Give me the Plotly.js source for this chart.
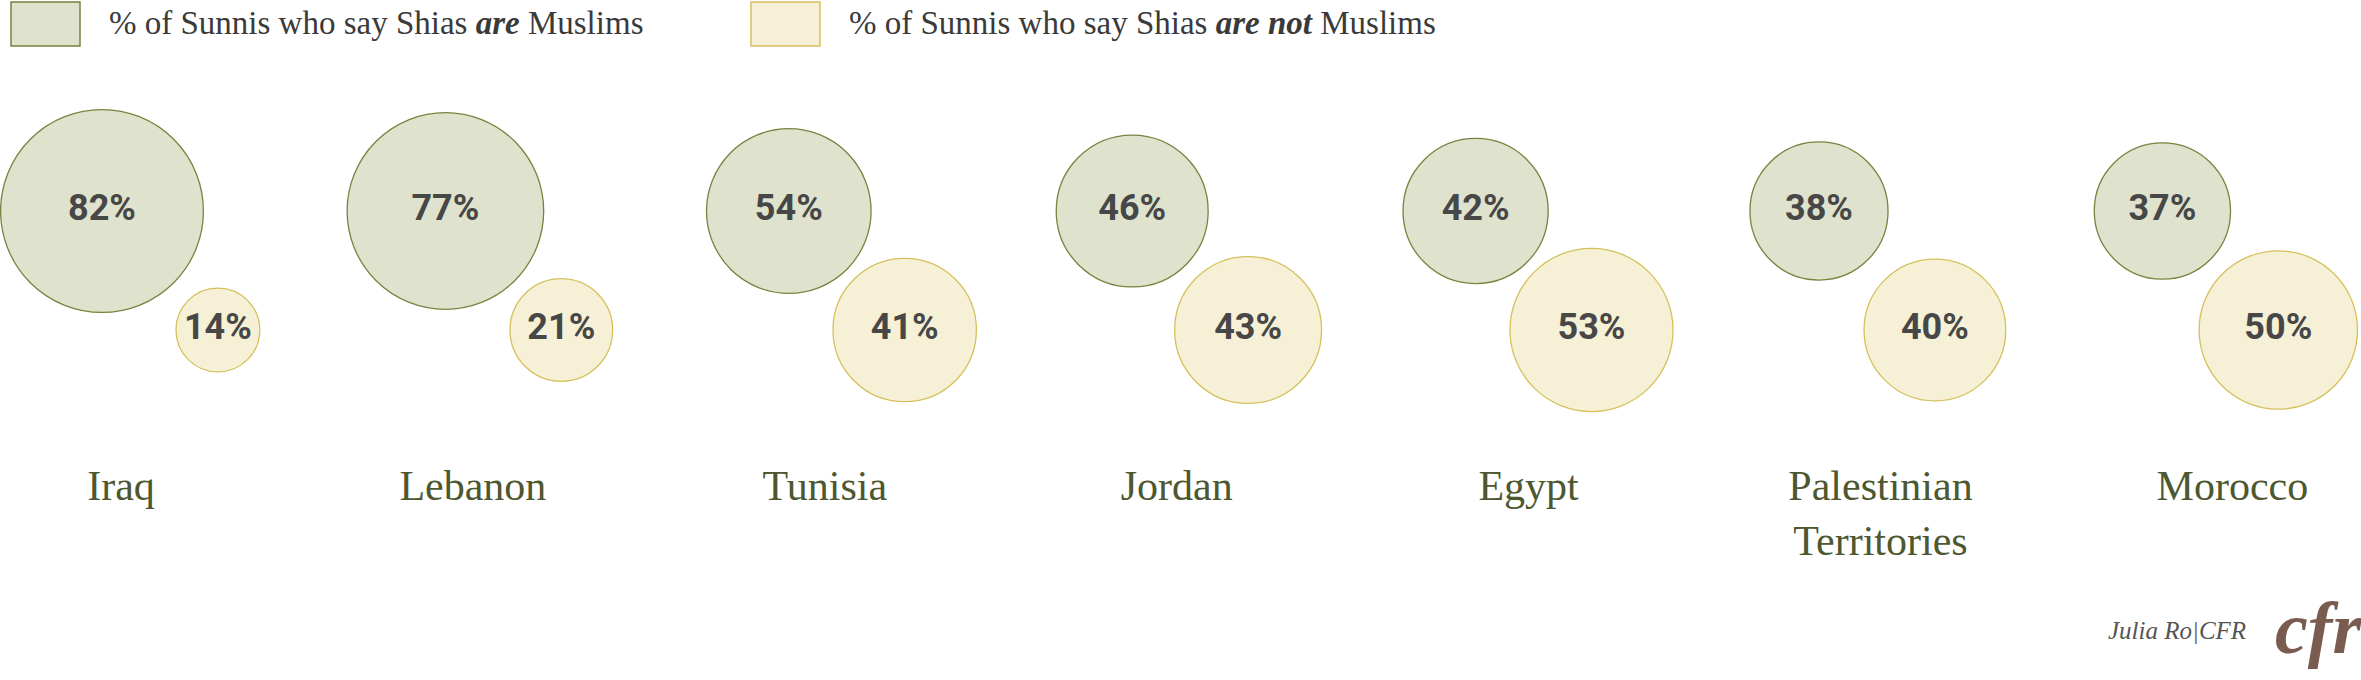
<!DOCTYPE html>
<html>
<head>
<meta charset="utf-8">
<script src="https://cdn.plot.ly/plotly-3.0.1.min.js"></script>
<style>
  html, body { margin: 0; padding: 0; background: #fff; }
  #chart { width: 2361px; height: 680px; }
</style>
</head>
<body>
<div id="chart"></div>
<script>
/* ─── Data ──────────────────────────────────────────────────────────────── */
const countries = ["Iraq", "Lebanon", "Tunisia", "Jordan", "Egypt", "Palestinian<br>Territories", "Morocco"];
const areMuslims = [82, 77, 54, 46, 42, 38, 37];
const areNotMuslims = [14, 21, 41, 43, 53, 40, 50];
const legendLabels = [
  "% of Sunnis who say Shias <b><i>are</i></b> Muslims",
  "% of Sunnis who say Shias <b><i>are not</i></b> Muslims"
];
const creditText = "<i>Julia Ro|CFR</i>";

/* ─── Look ──────────────────────────────────────────────────────────────── */
const W = 2361, H = 680;
const GREEN = { fill: "#dfe3cd", line: "#76843f" };
const YELLOW = { fill: "#f6f1d6", line: "#d6c05c" };
const SERIF = "'Liberation Serif', 'DejaVu Serif', serif";
const NARROW = "Roboto, 'Liberation Sans', sans-serif";
const bubbleK = 11.2;                       // radius px per sqrt(percent)
const sizeref = 1 / (2 * bubbleK * bubbleK);
const yellowDx = 0.3375, yellowRow = -1;    // yellow bubble sits right & below
const idx = countries.map((_, i) => i);

const px = v => v / W;
const py = v => 1 - v / H;

function bubbles(vals, xs, row, c, name) {
  return {
    type: "scatter", mode: "markers+text", name,
    x: xs, y: xs.map(() => row),
    text: vals.map(v => v + "%"),
    textposition: "middle center",
    textfont: { family: NARROW, size: 36, color: "#474747", weight: 700 },
    marker: { size: vals, sizemode: "area", sizeref, color: c.fill,
              line: { color: c.line, width: 1.3 }, opacity: 1 },
    cliponaxis: false, hoverinfo: "skip", showlegend: false
  };
}

const data = [
  bubbles(areMuslims, idx, 0, GREEN, "are"),
  bubbles(areNotMuslims, idx.map(i => i + yellowDx), yellowRow, YELLOW, "are not"),
  // carrier for the country label axis
  { type: "scatter", mode: "markers", x: idx, y: idx.map(() => 0), xaxis: "x2",
    marker: { opacity: 0 }, hoverinfo: "skip", showlegend: false }
];

const legendRect = (x0, c) => ({
  type: "rect", xref: "paper", yref: "paper",
  x0: px(x0), x1: px(x0 + 69), y0: py(46), y1: py(2),
  fillcolor: c.fill, line: { color: c.line, width: 1.5 }
});

const layout = {
  width: W, height: H,
  margin: { l: 0, r: 0, t: 0, b: 0 },
  paper_bgcolor: "#fff", plot_bgcolor: "#fff",
  showlegend: false,
  xaxis: { visible: false, range: [-102 / 343.4, (W - 102) / 343.4], fixedrange: true },
  xaxis2: {
    overlaying: "x", anchor: "free", position: 0.328, side: "bottom",
    range: [-121 / 351.9, (W - 121) / 351.9],
    tickmode: "array", tickvals: idx, ticktext: countries, ticks: "",
    showgrid: false, zeroline: false, showline: false,
    tickfont: { family: SERIF, size: 42, color: "#4d5730" }
  },
  yaxis: { visible: false, range: [-(H - 211) / 119, 211 / 119], fixedrange: true },
  shapes: [legendRect(11, GREEN), legendRect(751, YELLOW)],
  annotations: [
    { xref: "paper", yref: "paper", x: px(107), y: py(23), xanchor: "left", yanchor: "middle",
      text: legendLabels[0], showarrow: false, font: { family: SERIF, size: 33, color: "#3a3a3a" } },
    { xref: "paper", yref: "paper", x: px(847), y: py(23), xanchor: "left", yanchor: "middle",
      text: legendLabels[1], showarrow: false, font: { family: SERIF, size: 33, color: "#3a3a3a" } },
    { xref: "paper", yref: "paper", x: px(2177), y: py(630), xanchor: "center", yanchor: "middle",
      text: creditText, showarrow: false, font: { family: SERIF, size: 25, color: "#555" } },
    { xref: "paper", yref: "paper", x: px(2318), y: py(628), xanchor: "center", yanchor: "middle",
      text: "<b><i>cfr</i></b>", showarrow: false, font: { family: SERIF, size: 74, color: "#7a5b50" } }
  ]
};

Plotly.newPlot("chart", data, layout, { staticPlot: true, displayModeBar: false });
</script>
</body>
</html>
